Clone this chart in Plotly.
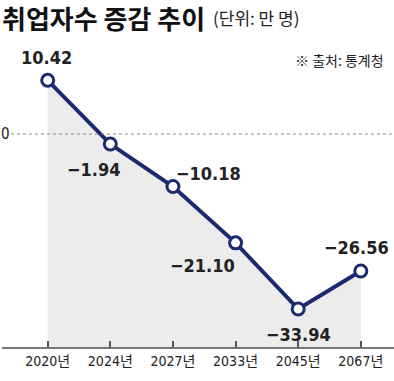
import plotly.graph_objects as go

years = ["2020년", "2024년", "2027년", "2033년", "2045년", "2067년"]
values = [10.42, -1.94, -10.18, -21.10, -33.94, -26.56]
labels = ["10.42", "−1.94", "−10.18", "−21.10", "−33.94", "−26.56"]
# label offsets (px) relative to each point
label_dx = [-1, -16, 36, -33, 0, -4]
label_dy = [23, -25, 13, -23, -25, 24]

y_min, y_max = -41.3, 18.24
navy = "#1b2a6e"
num_font = "DejaVu Sans Condensed, Liberation Sans Narrow, Roboto, Noto Sans CJK KR, sans-serif"
kr_font = "Noto Sans CJK KR, sans-serif"

fig = go.Figure()
fig.add_trace(go.Scatter(x=years, y=[y_min] * len(years), mode="lines",
                         line=dict(width=0), hoverinfo="skip", showlegend=False))
fig.add_trace(go.Scatter(x=years, y=values, mode="lines+markers",
                         fill="tonexty", fillcolor="#ececec",
                         line=dict(color=navy, width=4),
                         marker=dict(size=12, color="white",
                                     line=dict(color=navy, width=3)),
                         showlegend=False))

annotations = []
for yr, v, t, dx, dy in zip(years, values, labels, label_dx, label_dy):
    annotations.append(dict(x=yr, y=v, xref="x", yref="y", text=f"<b>{t}</b>",
                            showarrow=False, xshift=dx, yshift=dy,
                            font=dict(family=num_font, size=18, color="#222")))

plot_h = 306.7
def py(pix):
    return (346.7 - pix) / plot_h

annotations += [
    dict(x=-0.004, y=py(18), xref="paper", yref="paper", xanchor="left", yanchor="middle",
         text="<b>취업자수 증감 추이</b>", showarrow=False,
         font=dict(family=kr_font, size=26, color="#111")),
    dict(x=(211 - 2) / 391.9, y=py(18), xref="paper", yref="paper", xanchor="left",
         yanchor="middle", text="(단위: 만 명)", showarrow=False,
         font=dict(family=kr_font, size=17, color="#222")),
    dict(x=(386 - 2) / 391.9, y=py(60), xref="paper", yref="paper", xanchor="right",
         yanchor="middle", text="※ 출처: 통계청", showarrow=False,
         font=dict(family=kr_font, size=14, color="#222")),
    dict(x=(5 - 2) / 391.9, y=0, xref="paper", yref="y", xanchor="center",
         yanchor="middle", text="0", showarrow=False,
         font=dict(family=num_font, size=15, color="#222")),
]

fig.update_layout(
    width=394, height=381,
    margin=dict(l=2, r=0, t=40, b=34.3),
    paper_bgcolor="white", plot_bgcolor="white",
    annotations=annotations,
    shapes=[dict(type="line", xref="paper", yref="y", x0=(11 - 2) / 391.9, x1=1,
                 y0=0, y1=0, line=dict(color="#888", width=1, dash="dot"))],
    xaxis=dict(range=[-0.73, 5.53], showgrid=False, zeroline=False,
               showline=True, linecolor="#777", linewidth=2,
               ticks="inside", ticklen=6, tickcolor="#555", tickwidth=1.5,
               tickfont=dict(family=num_font, size=14, color="#222")),
    yaxis=dict(range=[y_min, y_max], visible=False, showgrid=False, zeroline=False),
)

fig.write_html("out.html", config={"displayModeBar": False},
               post_script="document.body.style.margin='0';document.body.style.overflow='hidden';")
